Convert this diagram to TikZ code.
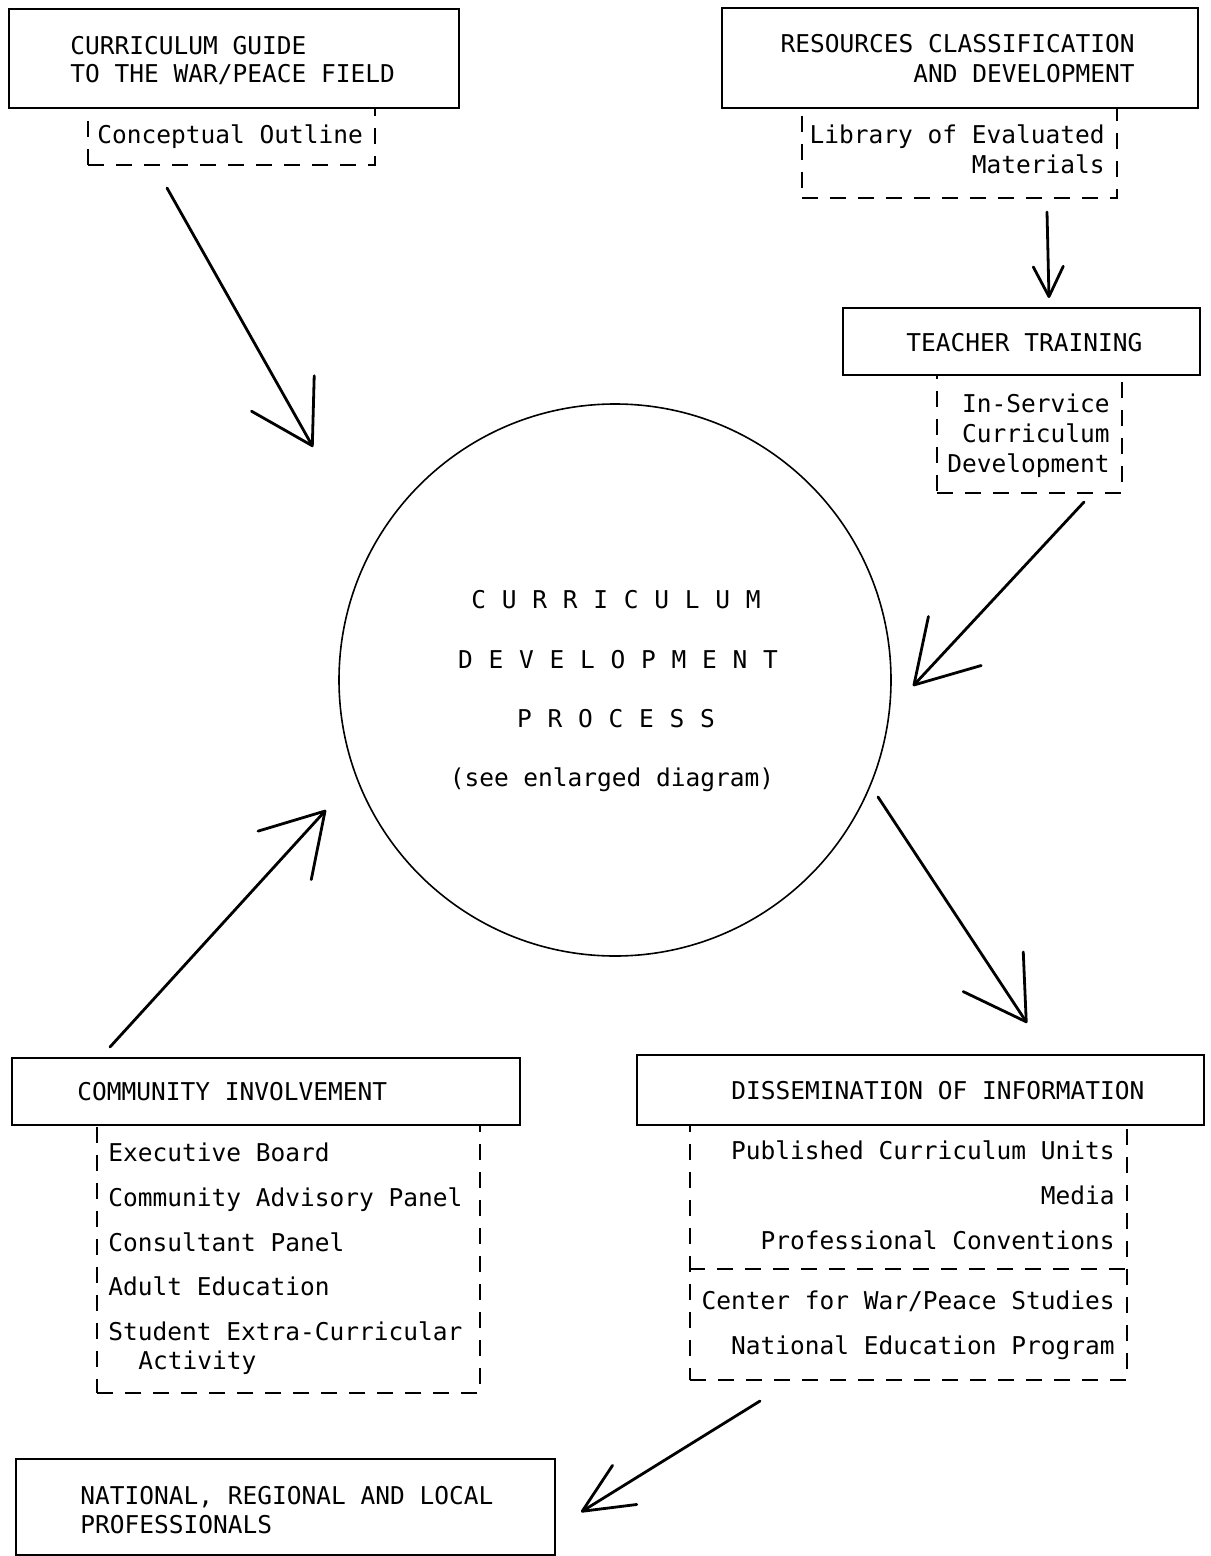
\documentclass[tikz,border=0pt]{standalone}
\usepackage{fontspec}
\setmainfont{DejaVu Sans Mono}
\newfontfamily\spacedfont[LetterSpace=4]{DejaVu Sans Mono}
\usetikzlibrary{arrows.meta,fit}
\begin{document}
\begin{tikzpicture}[x=0.5pt,y=-0.5pt,
    box/.style={draw,line width=1pt,inner sep=0pt,fill=white},
    subbox/.style={draw,line width=1pt,dash pattern=on 8pt off 6pt,inner sep=0pt},
    txt/.style={inner sep=0pt,font=\fontsize{12.25}{15}\selectfont},
    arr/.style={line width=1.4pt,line cap=round,-{Straight Barb[length=30pt,width=36pt,round]}},
    smallarr/.style={line width=1.4pt,line cap=round,-{Straight Barb[length=15pt,width=15pt,round]}}]
    \useasboundingbox (0,0) rectangle (1210,1556);
    \node[subbox,fit={(88,108) (375,165)}] (outline) {};
    \node[subbox,fit={(802,108) (1117,198)}] (library) {};
    \node[subbox,fit={(937,375) (1122,493)}] (inservice) {};
    \node[subbox,fit={(97,1125) (480,1393)}] (members) {};
    \node[subbox,fit={(690,1125) (1127,1380)}] (channels) {};
    \draw[subbox] (channels.west |- 0,1269) -- (channels.east |- 0,1269);
    \node[box,fit={(9,9) (459,108)}] (guide) {};
    \node[box,fit={(722,8) (1198,108)}] (resources) {};
    \node[box,fit={(843,308) (1200,375)}] (training) {};
    \node[box,fit={(12,1058) (520,1125)}] (community) {};
    \node[box,fit={(637,1055) (1204,1125)}] (dissem) {};
    \node[box,fit={(16,1459) (555,1555)}] (profs) {};
    \node[draw,circle,line width=0.8pt,minimum size=552pt*0.5,inner sep=0pt] (process) at (615,680) {};
    \node[txt,anchor=base west] (guide-a) at (70,55) {CURRICULUM GUIDE};
    \node[txt,anchor=base west] (guide-b) at (70,83) {TO THE WAR/PEACE FIELD};
    \node[txt,anchor=base west] (outline-a) at (97,144) {Conceptual Outline};
    \node[txt,anchor=base east] (resources-a) at (1135,53) {RESOURCES CLASSIFICATION};
    \node[txt,anchor=base east] (resources-b) at (1135,83) {AND DEVELOPMENT};
    \node[txt,anchor=base east] (library-a) at (1105,144) {Library of Evaluated};
    \node[txt,anchor=base east] (library-b) at (1105,174) {Materials};
    \node[txt,anchor=base west] (training-a) at (906,351) {TEACHER TRAINING};
    \foreach \y/\t [count=\i] in {412/In-Service,442/Curriculum,472/Development}
      \node[txt,anchor=base east] (inservice-\i) at (1110,\y) {\t};
    \node[txt,anchor=base west] (community-a) at (77,1100) {COMMUNITY INVOLVEMENT};
    \foreach \y/\t [count=\i] in {1161/Executive Board,1206/Community Advisory Panel,1251/Consultant Panel,1295/Adult Education,1340/Student Extra-Curricular}
      \node[txt,anchor=base west] (members-\i) at (108,\y) {\t};
    \node[txt,anchor=base west] (members-6) at (138,1369) {Activity};
    \node[txt,anchor=base west] (dissem-a) at (731,1099) {DISSEMINATION OF INFORMATION};
    \foreach \y/\t [count=\i] in {1159/Published Curriculum Units,1204/Media,1249/Professional Conventions,1309/{Center for War/Peace Studies},1354/National Education Program}
      \node[txt,anchor=base east] (channels-\i) at (1115,\y) {\t};
    \node[txt,anchor=base west] (profs-a) at (80,1504) {NATIONAL, REGIONAL AND LOCAL};
    \node[txt,anchor=base west] (profs-b) at (80,1533) {PROFESSIONALS};
    \node[txt,anchor=base,font=\spacedfont\fontsize{12.25}{15}\selectfont] (process-a) at (616,608) {C U R R I C U L U M};
    \node[txt,anchor=base,font=\spacedfont\fontsize{12.25}{15}\selectfont] (process-b) at (618,668) {D E V E L O P M E N T};
    \node[txt,anchor=base,font=\spacedfont\fontsize{12.25}{15}\selectfont] (process-c) at (616,727) {P R O C E S S};
    \node[txt,anchor=base] (process-d) at (612,786) {(see enlarged diagram)};
    \coordinate (guide-out) at (167,188);
    \coordinate (process-in-a) at (313,447);
    \coordinate (library-out) at (1047,212);
    \coordinate (training-in) at (1049,298);
    \coordinate (training-out) at (1084,502);
    \coordinate (process-in-b) at (913,686);
    \coordinate (process-out) at (878,797);
    \coordinate (dissem-in) at (1027,1023);
    \coordinate (community-out) at (110,1047);
    \coordinate (process-in-c) at (326,810);
    \coordinate (dissem-out) at (760,1401);
    \coordinate (profs-in) at (581,1512);
    \draw[arr] (guide-out) -- (process-in-a);
    \draw[smallarr] (library-out) -- (training-in);
    \draw[arr] (training-out) -- (process-in-b);
    \draw[arr] (process-out) -- (dissem-in);
    \draw[arr] (community-out) -- (process-in-c);
    \draw[arr,-{Straight Barb[length=25pt,width=23pt,round]}] (dissem-out) -- (profs-in);
\end{tikzpicture}
\end{document}
